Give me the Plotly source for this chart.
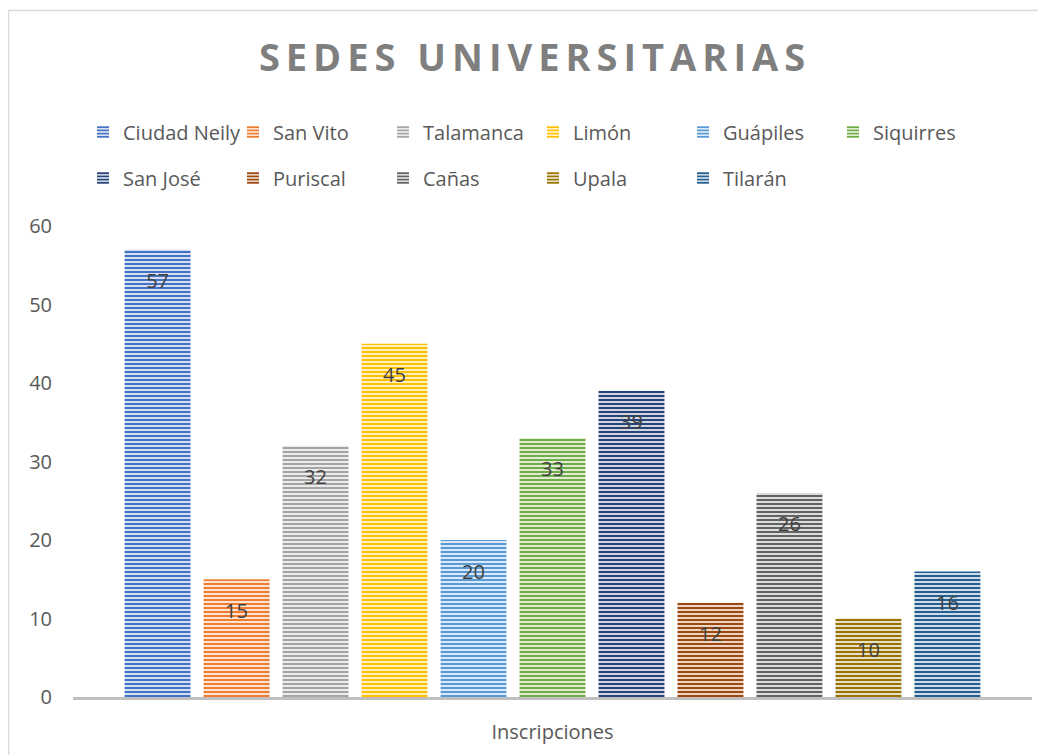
import plotly.graph_objects as go

# ---- data ----
category = ["Inscripciones"]
sedes = ["Ciudad Neily", "San Vito", "Talamanca", "Limón", "Guápiles", "Siquirres",
         "San José", "Puriscal", "Cañas", "Upala", "Tilarán"]
valores = [57, 15, 32, 45, 20, 33, 39, 12, 26, 10, 16]
colores = ["#4472C4", "#ED7D31", "#A5A5A5", "#FFC000", "#5B9BD5", "#70AD47",
           "#264478", "#9E480E", "#636363", "#997300", "#255E91"]
y_ticks = [0, 10, 20, 30, 40, 50, 60]

# page has an 8px body margin; figure sized to fit the window
OFF = 8
W, H = 1046 - OFF, 755 - OFF
ML, MR, MT, MB = 65, 14, 218, 58
PW, PH = W - ML - MR, H - MT - MB


def tint(hex_color, f=0.78):
    h = hex_color.lstrip("#")
    r, g, b = (int(h[i:i + 2], 16) for i in (0, 2, 4))
    r, g, b = (int(c + (255 - c) * f) for c in (r, g, b))
    return f"rgb({r},{g},{b})"


def px_x(sx):  # screen px -> paper fraction
    return (sx - OFF - ML) / PW


def px_y(sy):
    return (H - MB - (sy - OFF)) / PH


FONT = "Open Sans"
TXT = "#595959"
FS = 20

fig = go.Figure()
for i, (name, val, col) in enumerate(zip(sedes, valores, colores)):
    fig.add_trace(go.Bar(
        x=category, y=[val], name=name,
        marker=dict(color=col, line=dict(width=0),
                    pattern=dict(shape="-", size=4, solidity=0.5,
                                 fgcolor=col, bgcolor=tint(col), fillmode="replace")),
        text=[f"\u00a0<br><span style='font-size:{FS}px'>{val}</span>"],
        textposition="inside", insidetextanchor="end",
        textfont=dict(family=FONT, size=15, color="#404040"),
        textangle=0, constraintext="none",
        legend="legend" if i < 6 else "legend2",
        hoverinfo="name+y",
    ))

legend_common = dict(orientation="h", xanchor="left", yanchor="middle",
                     font=dict(family=FONT, size=FS, color=TXT),
                     entrywidth=105, entrywidthmode="pixels",
                     bgcolor="rgba(0,0,0,0)", itemclick=False, traceorder="normal")

fig.update_layout(
    width=W, height=H,
    margin=dict(l=ML, r=MR, t=MT, b=MB, autoexpand=False),
    paper_bgcolor="white", plot_bgcolor="white",
    barmode="group", bargap=0.094, bargroupgap=0.165,
    title=dict(text="<b>SEDES UNIVERSITARIAS</b>", xref="container", x=(535 - OFF) / W,
               xanchor="center", yref="container", y=1 - (58 - OFF) / H, yanchor="middle",
               font=dict(family=FONT, size=38, color="#7F7F7F")),
    legend=dict(x=px_x(83), y=px_y(132), **legend_common),
    legend2=dict(x=px_x(83), y=px_y(178), **legend_common),
    xaxis=dict(showline=True, linecolor="#BFBFBF", linewidth=3, showgrid=False,
               ticks="", tickfont=dict(family=FONT, size=FS, color=TXT),
               ticklabelstandoff=15, zeroline=False),
    yaxis=dict(range=[0, 60], tickvals=y_ticks, showgrid=False, showline=False,
               zeroline=False, ticks="", tickfont=dict(family=FONT, size=FS, color=TXT),
               ticklabelstandoff=20),
    showlegend=True,
    shapes=[
        dict(type="line", xref="paper", yref="paper", x0=px_x(8.5), x1=px_x(8.5),
             y0=px_y(10.5), y1=px_y(800), line=dict(color="#D9D9D9", width=1.5)),
        dict(type="line", xref="paper", yref="paper", x0=px_x(8.5), x1=px_x(1100),
             y0=px_y(10.5), y1=px_y(10.5), line=dict(color="#D9D9D9", width=1.5)),
    ],
)

post_js = """
var gd = document.getElementById('{plot_id}');
function spaceTitle(){
  gd.querySelectorAll('.gtitle').forEach(function(e){ e.style.letterSpacing = '6px'; });
}
spaceTitle();
if (gd.on) { gd.on('plotly_afterplot', spaceTitle); }
"""

fig.write_html("out.html", post_script=post_js)
